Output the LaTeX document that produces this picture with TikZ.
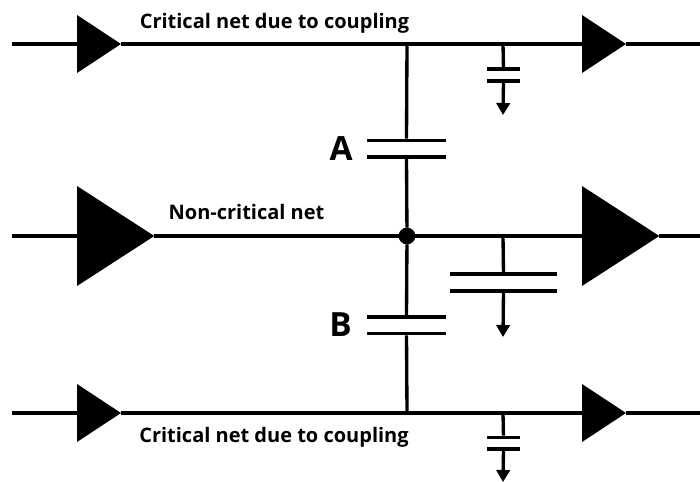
\documentclass[tikz,border=0pt]{standalone}
\usepackage{fontspec}
\setmainfont{Open Sans}
\usetikzlibrary{arrows.meta,positioning,shapes.geometric}
\tikzset{
  smallbuf/.style={isosceles triangle,isosceles triangle stretches,fill=black,inner sep=0pt,outer sep=0pt,minimum width=43.5pt,minimum height=33pt,anchor=lower side},
  bigbuf/.style={smallbuf,minimum width=75pt,minimum height=58pt},
  plate/.style={fill=black,inner sep=0pt,outer sep=0pt,minimum height=2.7pt},
  wire/.style={line width=2.5pt},
  gnd/.style={wire,-{Triangle[length=9pt,width=10pt]}},
  netlabel/.style={font=\fontsize{15}{18}\selectfont\bfseries},
  caplabel/.style={font=\fontsize{25}{30}\selectfont\bfseries}
}
\begin{document}
\begin{tikzpicture}[x=0.75pt,y=-0.75pt]
\useasboundingbox (0,0) rectangle (700,482);
% nets
\coordinate (in1) at (12,44);
\coordinate (in2) at (12,236);
\coordinate (in3) at (12,413);
\coordinate (out1) at (700,44);
\coordinate (out2) at (700,236);
\coordinate (out3) at (700,413);
\node[smallbuf] (b1l) at (77,44) {};
\node[smallbuf] (b1r) at (582,44) {};
\node[bigbuf] (b2l) at (77,236) {};
\node[bigbuf] (b2r) at (582,236) {};
\node[smallbuf] (b3l) at (77,413) {};
\node[smallbuf] (b3r) at (582,413) {};
\draw[wire](in1)--(b1l.lower side);
\draw[wire](b1l.apex)--(b1r.lower side);
\draw[wire](b1r.apex)--(out1);
\draw[wire](in2)--(b2l.lower side);
\draw[wire](b2l.apex)--(b2r.lower side);
\draw[wire](b2r.apex)--(out2);
\draw[wire](in3)--(b3l.lower side);
\draw[wire](b3l.apex)--(b3r.lower side);
\draw[wire](b3r.apex)--(out3);
% coupling caps
\coordinate (t1) at (407,44);
\coordinate (t3) at (407,413);
\node[circle,fill=black,inner sep=0pt,outer sep=0pt,minimum size=12.6pt] (dot) at (407,236) {};
\node[plate,minimum width=59pt] (a1) at (406.5,140.5) {};
\node[plate,minimum width=59pt] (a2) at (406.5,157) {};
\node[plate,minimum width=59pt] (c1) at (406.5,317) {};
\node[plate,minimum width=59pt] (c2) at (406.5,333.5) {};
\draw[wire](t1)--(a1);
\draw[wire](a2)--(dot);
\draw[wire](dot)--(c1);
\draw[wire](c2)--(t3);
% load caps
\coordinate (g1) at (503,44);
\coordinate (g2) at (503,236);
\coordinate (g3) at (503,413);
\coordinate (e1) at (503,115);
\coordinate (e2) at (503,337);
\coordinate (e3) at (503,482);
\node[plate,minimum width=24.5pt] (p1) at (503.5,69) {};
\node[plate,minimum width=24.5pt] (q1) at (503.5,81) {};
\node[plate,minimum width=80pt] (p2) at (503.5,274) {};
\node[plate,minimum width=80pt] (q2) at (503.5,291) {};
\node[plate,minimum width=24.5pt] (p3) at (503.5,437.5) {};
\node[plate,minimum width=24.5pt] (q3) at (503.5,449) {};
\draw[wire](g1)--(p1);
\draw[gnd](q1)--(e1);
\draw[wire](g2)--(p2);
\draw[gnd](q2)--(e2);
\draw[wire](g3)--(p3);
\draw[gnd](q3)--(e3);
% labels
\node[netlabel] (top) at (274.5,23) {Critical net due to coupling};
\node[netlabel] (mid) at (246.5,212) {Non-critical net};
\node[netlabel] (bot) at (274,437) {Critical net due to coupling};
\node[caplabel] (la) at (341,148.5) {A};
\node[caplabel] (lb) at (340.5,324.5) {B};
\end{tikzpicture}
\end{document}
